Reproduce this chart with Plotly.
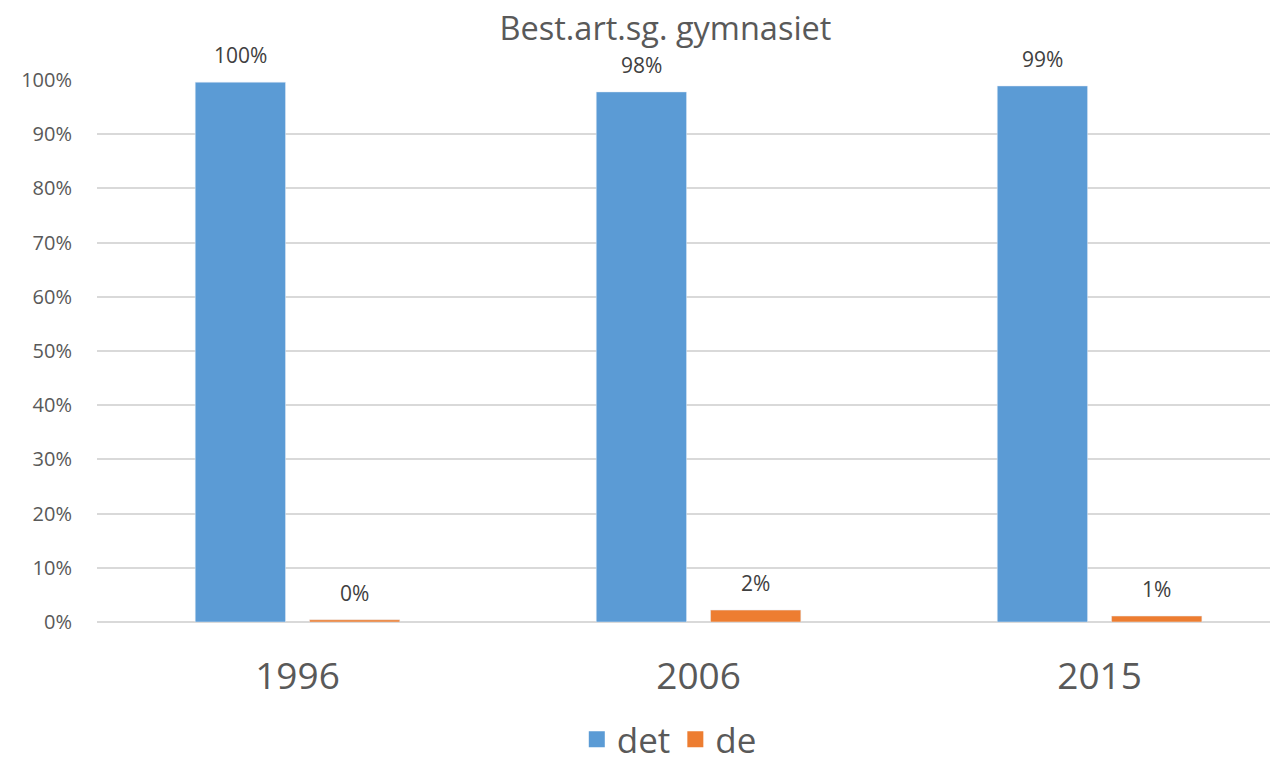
import plotly.graph_objects as go

years = ["1996", "2006", "2015"]
det_values = [99.6, 97.8, 98.9]
de_values = [0.4, 2.2, 1.1]
y_ticks = [0, 10, 20, 30, 40, 50, 60, 70, 80, 90, 100]
y_tick_labels = [f"{v}%" for v in y_ticks]

FONT = "Open Sans, DejaVu Sans, sans-serif"
GREY = "#595959"
BLUE = "#5B9BD5"
ORANGE = "#ED7D31"

fig = go.Figure()
fig.add_trace(go.Bar(x=years, y=det_values, name="det", marker_color=BLUE,
                     showlegend=False))
fig.add_trace(go.Bar(x=years, y=de_values, name="de", marker_color=ORANGE,
                     showlegend=False))
# legend entries with larger square swatches
fig.add_trace(go.Scatter(x=[None], y=[None], mode="markers", name="det",
                         marker=dict(symbol="square", size=16, color=BLUE)))
fig.add_trace(go.Scatter(x=[None], y=[None], mode="markers", name="de",
                         marker=dict(symbol="square", size=16, color=ORANGE)))

# data labels above each bar (x given as category index)
for vals, shift in ((det_values, -57), (de_values, 57)):
    for i, v in enumerate(vals):
        fig.add_annotation(x=i, y=v, text=f"{v:.0f}%", showarrow=False,
                           xshift=shift, yshift=11, yanchor="bottom",
                           font=dict(size=21, color="#404040", family=FONT))

fig.update_layout(
    width=1270, height=767,
    paper_bgcolor="white", plot_bgcolor="white",
    margin=dict(l=97, r=0, t=80, b=145, autoexpand=False),
    barmode="group", bargap=0.43, bargroupgap=0.21,
    font=dict(family=FONT, color=GREY),
    title=dict(text="Best.art.sg. gymnasiet", x=0.524, xref="container", xanchor="center",
               y=0.963, yref="container", yanchor="middle",
               font=dict(size=32.5, color=GREY, family=FONT)),
    showlegend=True,
    legend=dict(orientation="h", x=0.527, xref="container", xanchor="center",
                y=0.036, yref="container", yanchor="middle",
                font=dict(size=35, color=GREY, family=FONT), itemwidth=30,
                tracegroupgap=0),
    xaxis=dict(type="category", range=[-0.5, 2.425], showgrid=False, showline=False,
               zeroline=False, ticks="outside", ticklen=22, tickcolor="rgba(0,0,0,0)",
               tickfont=dict(size=37, color=GREY, family=FONT)),
    yaxis=dict(range=[0, 100], tickvals=y_ticks, ticktext=y_tick_labels,
               showgrid=True, gridcolor="#D9D9D9", gridwidth=1.5,
               zeroline=True, zerolinecolor="#D9D9D9", zerolinewidth=1.5,
               showline=False, ticks="outside", ticklen=20, tickcolor="rgba(0,0,0,0)",
               tickfont=dict(size=20, color=GREY, family=FONT)),
)

fig.write_html("out.html", config={"displayModeBar": False},
               post_script="document.body.style.margin='0';document.body.style.overflow='hidden';")
